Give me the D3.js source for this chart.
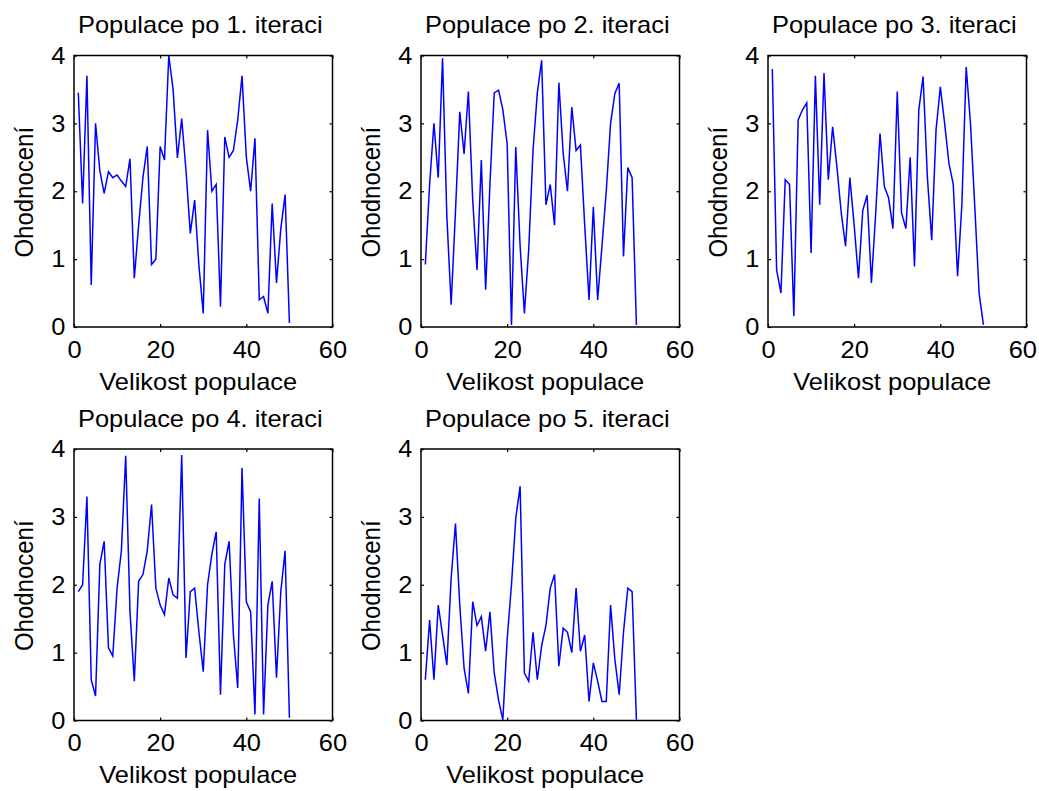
<!DOCTYPE html>
<html><head><meta charset="utf-8">
<script src="https://cdn.jsdelivr.net/npm/d3@7"></script>
<style>
body{margin:0;background:#fff;}
svg{display:block;}
text{font-family:"Liberation Sans",Arial,Helvetica,sans-serif;fill:#000;}
</style>
</head><body>
<svg id="c" width="1039" height="791"></svg>
<script>
const titles = ["Populace po 1. iteraci","Populace po 2. iteraci","Populace po 3. iteraci","Populace po 4. iteraci","Populace po 5. iteraci"];
const xLabel = "Velikost populace";
const yLabel = "Ohodnocení";
const xTicks = [0,20,40,60];
const yTicks = [0,1,2,3,4];

const pop1 = [3.45,1.82,3.7,0.62,3.0,2.3,1.97,2.29,2.2,2.24,2.15,2.07,2.48,0.72,1.5,2.2,2.66,0.92,1.0,2.66,2.46,4.0,3.5,2.49,3.07,2.3,1.38,1.87,0.9,0.2,2.9,2.0,2.1,0.3,2.8,2.5,2.6,3.05,3.7,2.5,2.0,2.78,0.4,0.45,0.2,1.82,0.65,1.45,1.95,0.06];
const pop2 = [0.92,2.1,3.0,2.2,3.96,1.63,0.33,1.7,3.17,2.55,3.47,1.87,0.84,2.46,0.55,2.1,3.45,3.49,3.2,2.7,0.03,2.65,1.2,0.2,1.14,2.6,3.45,3.93,1.8,2.1,1.5,3.6,2.56,2.0,3.24,2.6,2.68,1.5,0.4,1.77,0.4,1.19,2.0,3.0,3.44,3.59,1.04,2.35,2.2,0.03];
const pop3 = [3.8,0.84,0.5,2.17,2.1,0.16,3.05,3.2,3.3,1.09,3.7,1.8,3.74,2.17,2.95,2.36,1.68,1.19,2.2,1.5,0.72,1.72,1.94,0.65,1.68,2.85,2.07,1.9,1.45,3.47,1.68,1.45,2.5,0.89,3.2,3.69,2.2,1.28,2.9,3.54,3.0,2.41,2.1,0.75,1.8,3.83,3.0,1.77,0.5,0.03];
const pop4 = [1.9,2.0,3.3,0.6,0.36,2.3,2.64,1.07,0.95,1.95,2.5,3.9,1.6,0.58,2.05,2.15,2.5,3.18,1.95,1.7,1.56,2.1,1.85,1.8,3.91,0.92,1.9,1.95,1.3,0.72,2.0,2.45,2.78,0.38,2.3,2.64,1.26,0.48,3.72,1.75,1.6,0.09,3.27,0.09,1.7,2.05,0.63,1.9,2.5,0.04];
const pop5 = [0.6,1.48,0.6,1.7,1.26,0.82,2.1,2.9,1.7,0.77,0.4,1.75,1.4,1.53,1.02,1.6,0.7,0.3,0.01,1.2,2.0,2.98,3.45,0.7,0.58,1.3,0.6,1.1,1.4,1.95,2.15,0.8,1.36,1.3,1.0,1.95,1.02,1.26,0.28,0.85,0.58,0.28,0.28,1.7,0.9,0.38,1.3,1.95,1.9,0.01];
const series = [pop1, pop2, pop3, pop4, pop5];

const W = 1039;
const panelLeft = [74, 421, 768];
const panelTop = [55.5, 449];
const pw = 258.5, ph = 271.5;
const SX = 1.06;
const FS = 24;
const svg = d3.select("#c");

series.forEach((data, k) => {
  const col = k % 3, row = Math.floor(k / 3);
  const x0 = panelLeft[col], y0 = panelTop[row];
  const x = d3.scaleLinear().domain([0, 60]).range([x0, x0 + pw]);
  const y = d3.scaleLinear().domain([0, 4]).range([y0 + ph, y0]);
  const g = svg.append("g");

  g.append("path").datum(data)
    .attr("d", d3.line().x((d, i) => x(i + 1)).y(d => y(d)))
    .attr("fill", "none").attr("stroke", "#0000ff").attr("stroke-width", 1.5);

  const styleAxis = (a) => {
    a.attr("font-family", null).attr("font-size", FS);
    a.select(".domain").remove();
    a.selectAll(".tick line").attr("stroke", "#000").attr("stroke-width", 1.2);
  };
  const gb = g.append("g").attr("transform", `translate(0,${y0 + ph})`)
    .call(d3.axisBottom(x).tickValues(xTicks).tickSize(-3).tickPadding(13.5).tickFormat(d3.format("d")));
  styleAxis(gb);
  gb.selectAll("text").attr("transform", `scale(${SX},1)`).attr("fill", "#000");
  // keep the last tick label inside the canvas
  gb.selectAll(".tick text").each(function() {
    const r = this.getBoundingClientRect();
    if (r.right > W - 2) {
      const shift = (r.right - (W - 2)) / SX;
      d3.select(this).attr("x", -shift);
    }
  });

  const gt = g.append("g").attr("transform", `translate(0,${y0})`)
    .call(d3.axisTop(x).tickValues(xTicks).tickSize(-3).tickFormat(""));
  styleAxis(gt);

  const gl = g.append("g").attr("transform", `translate(${x0},0)`)
    .call(d3.axisLeft(y).tickValues(yTicks).tickSize(-3).tickPadding(8.5 / SX).tickFormat(d3.format("d")));
  styleAxis(gl);
  gl.selectAll("text").attr("transform", `scale(${SX},1)`).attr("fill", "#000");

  const gr = g.append("g").attr("transform", `translate(${x0 + pw},0)`)
    .call(d3.axisRight(y).tickValues(yTicks).tickSize(-3).tickFormat(""));
  styleAxis(gr);

  g.append("rect").attr("x", x0).attr("y", y0).attr("width", pw).attr("height", ph)
    .attr("fill", "none").attr("stroke", "#000").attr("stroke-width", 1.5);

  const cx = x0 + pw / 2;
  g.append("text").attr("transform", `translate(${cx - 3},${y0 - 22.5}) scale(${SX},1)`)
    .attr("text-anchor", "middle").attr("font-size", FS).text(titles[k]);
  g.append("text").attr("transform", `translate(${cx - 5},${y0 + ph + 62.5}) scale(${SX},1)`)
    .attr("text-anchor", "middle").attr("font-size", FS).text(xLabel);
  g.append("text").attr("transform", `translate(${x0 - 41},${y0 + ph / 2 + 1}) scale(${SX},1) rotate(-90)`)
    .attr("text-anchor", "middle").attr("font-size", 24).text(yLabel);
});
</script>
</body></html>
